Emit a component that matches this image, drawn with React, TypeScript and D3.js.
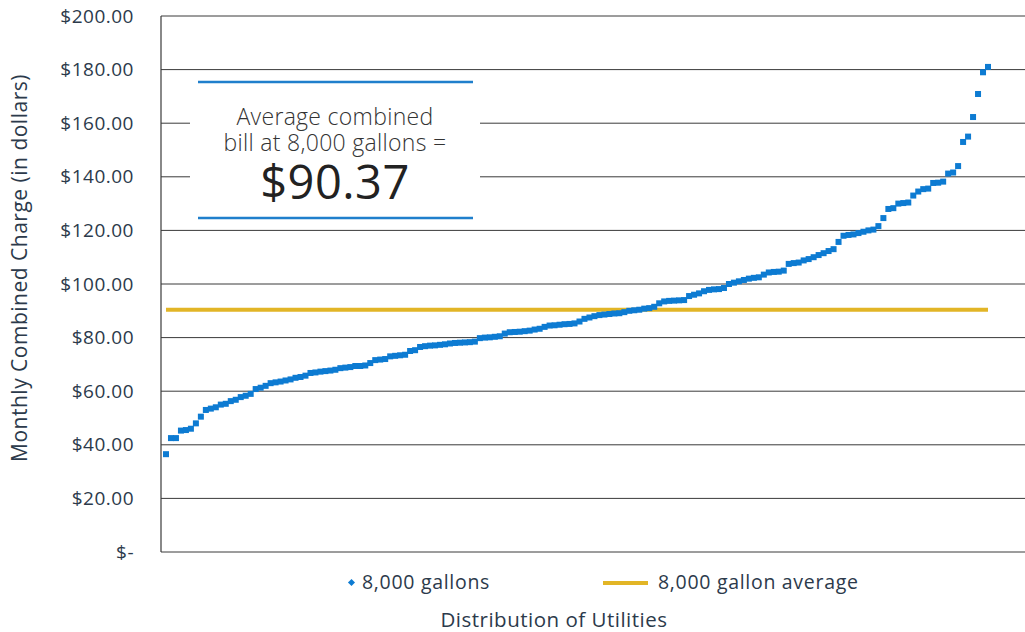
import React from "react";
import * as d3 from "d3";

const yTicks = [0, 20, 40, 60, 80, 100, 120, 140, 160, 180, 200];
const averageValue = 90.37;
const seriesLabel = "8,000 gallons";
const averageLabel = "8,000 gallon average";
const yTitle = "Monthly Combined Charge (in dollars)";
const xTitle = "Distribution of Utilities";
const noteLines = ["Average combined", "bill at 8,000 gallons ="];
const noteValue = "$90.37";

const charges = [
  36.5, 42.5, 42.5, 45.3, 45.5, 46, 48, 50.5, 53, 53.5,
  54, 55, 55.3, 56.3, 56.8, 57.8, 58.3, 59, 60.8, 61.3,
  62, 63, 63.3, 63.6, 64, 64.4, 65, 65.3, 65.8, 66.8,
  67, 67.3, 67.5, 67.7, 68, 68.6, 68.8, 69, 69.4, 69.4,
  69.6, 70.5, 71.6, 71.8, 72, 73, 73.2, 73.4, 73.6, 75,
  75.3, 76.5, 76.8, 77, 77.1, 77.3, 77.5, 77.8, 78, 78.1,
  78.2, 78.3, 78.5, 79.8, 80, 80.1, 80.3, 80.5, 81.5, 82,
  82.1, 82.2, 82.4, 82.6, 83, 83.3, 84, 84.5, 84.6, 84.8,
  85, 85.1, 85.3, 86, 87, 87.5, 88, 88.4, 88.6, 88.8,
  89, 89.1, 89.5, 90, 90.2, 90.4, 90.8, 91, 91.5, 92.8,
  93.5, 93.7, 93.8, 93.9, 94, 95.5, 96, 96.5, 97.3, 97.8,
  98, 98.1, 98.5, 100, 100.5, 101, 101.5, 102, 102.3, 102.5,
  103.5, 104.3, 104.5, 104.6, 105, 107.5, 107.8, 108, 108.8, 109.3,
  110, 110.8, 111.5, 112.3, 113, 115.7, 118, 118.3, 118.5, 119,
  119.5, 120, 120.3, 121.6, 124.6, 128, 128.3, 130, 130.2, 130.4,
  133, 134.5, 135.4, 135.6, 137.7, 137.8, 138.2, 141.2, 141.6, 144,
  153, 155, 162.3, 170.9, 179, 181,
];

const W = 1025;
const H = 632;
const PLOT_L = 161;
const PLOT_R = 1025;
const PLOT_T = 16;
const PLOT_B = 552;

const BLUE = "#0d7bd2";
const GOLD = "#e2b526";
const TEXT = "#2c3a4b";
const FONT = "'Open Sans', 'Noto Sans', sans-serif";

export default function App() {
  const y = d3.scaleLinear().domain([0, 200]).range([PLOT_B, PLOT_T]);
  const x = d3.scaleLinear().domain([0, charges.length - 1]).range([166, 988]);
  const fmt = (v: number) => (v === 0 ? "$-" : d3.format("$,.2f")(v));
  const sq = 6;

  const avgLine = d3.line<number>()
    .x((_, i) => x(i))
    .y(() => y(averageValue));

  return (
    <div style={{ position: "absolute", left: 0, top: 0 }}>
      <svg width={W} height={H} style={{ display: "block", background: "#fff" }}>
        {yTicks.map((t) => (
          <line key={"g" + t} x1={PLOT_L} x2={PLOT_R} y1={y(t)} y2={y(t)} stroke="#3a3a3a" strokeWidth={1} />
        ))}
        <line x1={PLOT_L} x2={PLOT_L} y1={PLOT_T} y2={PLOT_B} stroke="#3a3a3a" strokeWidth={1.2} />
        {yTicks.map((t) => (
          <text key={"t" + t} x={134} y={y(t)} dy="0.35em" textAnchor="end" fontFamily={FONT} fontSize={19} letterSpacing={0.5} fill={TEXT}>
            {fmt(t)}
          </text>
        ))}
        <text transform={`translate(27,${268}) rotate(-90)`} textAnchor="middle" fontFamily={FONT} fontSize={21} letterSpacing={0.5} fill={TEXT}>
          {yTitle}
        </text>

        <rect x={190} y={76} width={290} height={148} fill="#fff" />
        <line x1={198} x2={473} y1={82} y2={82} stroke="#1f7fcc" strokeWidth={2.5} />
        <line x1={198} x2={473} y1={218} y2={218} stroke="#1f7fcc" strokeWidth={2.5} />
        <text x={335} y={125} textAnchor="middle" fontFamily={FONT} fontSize={23} fontWeight={300} letterSpacing={0.3} fill="#333">
          {noteLines[0]}
        </text>
        <text x={335} y={151} textAnchor="middle" fontFamily={FONT} fontSize={23} fontWeight={300} letterSpacing={0.3} fill="#333">
          {noteLines[1]}
        </text>
        <text x={335} y={199} textAnchor="middle" fontFamily={FONT} fontSize={47} fontWeight={500} letterSpacing={0.5} fill="#222">
          {noteValue}
        </text>

        <path d={avgLine(charges) || ""} fill="none" stroke={GOLD} strokeWidth={4} />

        {charges.map((v, i) => (
          <rect key={i} x={x(i) - sq / 2} y={y(v) - sq / 2} width={sq} height={sq} fill={BLUE} />
        ))}

        <rect x={349} y={580} width={5} height={5} fill={BLUE} transform="rotate(45 351.5 582.5)" />
        <text x={362} y={589} fontFamily={FONT} fontSize={19.5} letterSpacing={0.7} fill={TEXT}>{seriesLabel}</text>
        <line x1={603} x2={648} y1={583} y2={583} stroke={GOLD} strokeWidth={4} />
        <text x={658} y={589} fontFamily={FONT} fontSize={19.5} letterSpacing={0.7} fill={TEXT}>{averageLabel}</text>

        <text x={554} y={627} textAnchor="middle" fontFamily={FONT} fontSize={20.5} letterSpacing={0.5} fill={TEXT}>{xTitle}</text>
      </svg>
    </div>
  );
}
